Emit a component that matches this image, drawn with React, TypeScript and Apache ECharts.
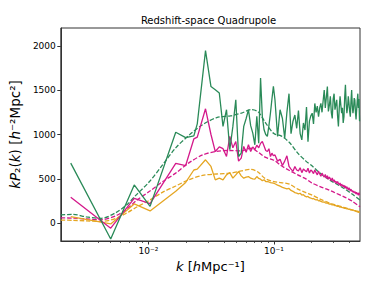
import React, { useEffect, useRef } from 'react';
import * as echarts from 'echarts';

// k bins (h/Mpc) of the measured (solid, noisy) spectra
const kSolid = [
  0.0024, 0.0050, 0.0077, 0.0103, 0.0165, 0.0198, 0.0230, 0.0245, 0.0285, 0.0315,
  0.0341, 0.0367, 0.0393, 0.0419, 0.0445, 0.0471, 0.0497, 0.0523, 0.0549, 0.0575,
  0.0601, 0.0627, 0.0653, 0.0679, 0.0705, 0.0731, 0.0757, 0.0783, 0.0809, 0.0835,
  0.0861, 0.0887, 0.0913, 0.0939, 0.0965, 0.0991,
  0.102, 0.107, 0.112, 0.117, 0.122, 0.127, 0.132, 0.137, 0.142, 0.147,
  0.152, 0.157, 0.162, 0.167, 0.172, 0.177, 0.182, 0.187, 0.192, 0.197,
  0.202, 0.207, 0.212, 0.217, 0.222, 0.227, 0.232, 0.237, 0.242, 0.247,
  0.252, 0.257, 0.262, 0.267, 0.272, 0.277, 0.282, 0.287, 0.292, 0.297,
  0.302, 0.307, 0.312, 0.317, 0.322, 0.327, 0.332, 0.337, 0.342, 0.347,
  0.352, 0.357, 0.362, 0.367, 0.372, 0.377, 0.382, 0.387, 0.392, 0.397,
  0.402, 0.407, 0.412, 0.417, 0.422, 0.427, 0.432, 0.437, 0.442, 0.447,
  0.452, 0.457, 0.462, 0.467, 0.472, 0.477, 0.482,
];

const greenSolid = [
  677, -177, 432, 190, 1025, 965, 985, 1120, 1945, 1540,
  1505, 1468, 1091, 1279, 828, 1091, 1392, 752, 790, 1091,
  1180, 1279, 1100, 1016, 884, 1204, 903, 1637, 1200, 1053,
  1000, 978, 1100, 1242, 1400, 1542,
  1392, 978, 1279, 1180, 960, 1250, 1460, 1010, 1150, 1220,
  1070, 1270, 1010, 940, 1130, 1050, 1310, 920, 1150, 1210,
  1240, 1120, 1350, 1250, 1320, 1200, 1300, 1350, 1250, 1380,
  1500, 1300, 1420, 1540, 1260, 1330, 1430, 1250, 1180, 1400,
  1460, 1280, 1340, 1390, 1210, 1090, 1300, 1430, 1330, 1240,
  1300, 1130, 1200, 1420, 1560, 1350, 1240, 1310, 1430, 1350,
  1260, 1200, 1380, 1500, 1320, 1240, 1300, 1410, 1390, 1250,
  1170, 1280, 1380, 1460, 1300, 1400, 1150,
];

const magentaSolid = [
  293, -56, 280, 222, 675, 650, 950, 970, 1290, 1000,
  808, 860, 840, 752, 978, 850, 921, 700, 734, 865,
  800, 884, 809, 860, 830, 880, 850, 900, 921, 870,
  820, 809, 840, 752, 790, 760,
  770, 700, 720, 650, 700, 760, 640, 610, 585, 640,
  600, 590, 625, 570, 610, 595, 580, 620, 565, 600,
  585, 560, 600, 570, 545, 585, 555, 530, 565, 540,
  520, 550, 505, 535, 495, 520, 500, 480, 510, 470,
  490, 460, 475, 445, 470, 450, 430, 455, 420, 440,
  425, 410, 430, 400, 420, 390, 410, 395, 375, 400,
  380, 365, 385, 360, 370, 350, 365, 340, 355, 345,
  330, 350, 325, 340, 315, 345, 320,
];

const orangeSolid = [
  75, -8, 218, 139, 360, 460, 600, 610, 715, 640,
  489, 508, 489, 545, 571, 508, 545, 583, 534, 508,
  520, 526, 508, 500, 497, 526, 505, 497, 480, 490,
  470, 470, 465, 458, 455, 452,
  445, 430, 418, 405, 395, 388, 392, 370, 360, 345,
  340, 332, 338, 318, 322, 305, 298, 302, 288, 284,
  276, 280, 268, 262, 266, 252, 255, 246, 242, 238,
  240, 230, 226, 229, 220, 216, 219, 210, 207, 211,
  203, 198, 200, 193, 190, 193, 185, 182, 185, 178,
  175, 177, 170, 168, 171, 164, 162, 165, 158, 155,
  158, 152, 150, 153, 147, 145, 147, 141, 140, 142,
  137, 135, 137, 132, 131, 133, 128,
];

// smooth model predictions (dashed)
const kModel = [
  0.002, 0.0025, 0.0032, 0.0042, 0.0055, 0.0068, 0.008, 0.0102, 0.013, 0.0165,
  0.021, 0.027, 0.035, 0.045, 0.055, 0.066, 0.075, 0.085, 0.1, 0.114,
  0.133, 0.155, 0.18, 0.2, 0.236, 0.27, 0.3, 0.36, 0.42, 0.486,
];
const greenModel = [
  94, 100, 72, 56, 120, 215, 320, 470, 660, 850,
  990, 1110, 1190, 1210, 1240, 1280, 1255, 1140, 1010, 985,
  910, 790, 700, 650, 560, 500, 460, 395, 330, 262,
];
const magentaModel = [
  60, 58, 48, 40, 85, 165, 255, 360, 470, 565,
  680, 770, 810, 820, 815, 845, 800, 745, 710, 650,
  595, 545, 500, 455, 410, 380, 350, 300, 250, 185,
];
const orangeModel = [
  35, 33, 27, 20, 55, 120, 180, 260, 350, 420,
  490, 540, 555, 565, 590, 608, 575, 505, 470, 458,
  440, 385, 345, 320, 268, 235, 212, 180, 150, 118,
];

const xMajorTicks = [0.01, 0.1];
const xMinorTicks = [0.003, 0.004, 0.005, 0.006, 0.007, 0.008, 0.009, 0.02, 0.03, 0.04, 0.05, 0.06, 0.07, 0.08, 0.09, 0.2, 0.3, 0.4];
const yTicks = [0, 500, 1000, 1500, 2000];

const GREEN = '#2a8a58';
const MAGENTA = '#d4198b';
const ORANGE = '#e5a623';
const FONT = 'DejaVu Sans';
const AXIS = '#333333';

const pair = (ks: number[], vs: number[]) => ks.map((k, i) => [k, vs[i]]);

const SUP: Record<string, string> = { '-': '\u207B', '0': '\u2070', '1': '\u00B9', '2': '\u00B2', '3': '\u00B3' };
const powLabel = (v: number) => {
  const e = Math.round(Math.log10(v));
  return '10' + String(e).split('').map((c) => SUP[c] || c).join('');
};

export default function App() {
  const ref = useRef<HTMLDivElement>(null);
  useEffect(() => {
    const chart = echarts.init(ref.current!, null, { renderer: 'svg' });
    const solid = (name: string, data: number[], color: string) => ({
      name, type: 'line', data: pair(kSolid, data), symbol: 'none', showSymbol: false,
      lineStyle: { color, width: 1.3 }, itemStyle: { color },
    });
    const dashed = (name: string, data: number[], color: string) => ({
      name, type: 'line', data: pair(kModel, data), symbol: 'none', showSymbol: false, smooth: 0.3,
      lineStyle: { color, width: 1.3, type: [4.4, 1.9] }, itemStyle: { color },
    });
    chart.setOption({
      animation: false,
      grid: { left: 57, top: 28, width: 303, height: 213, show: true, borderColor: AXIS, borderWidth: 1 },
      graphic: [{
        type: 'text', x: 208.5, y: 20,
        style: { text: 'Redshift-space Quadrupole', fontSize: 10, fontFamily: FONT, fill: '#000', textAlign: 'center', textVerticalAlign: 'middle' },
      }],
      xAxis: [
        {
          type: 'log', logBase: 10, min: 0.002, max: 0.486,
          axisLine: { show: true, onZero: false, lineStyle: { color: AXIS, width: 1 } },
          axisTick: { show: true, customValues: xMajorTicks, length: 3.5, lineStyle: { color: AXIS, width: 1 } },
          axisLabel: { customValues: xMajorTicks, formatter: powLabel, fontSize: 9, fontFamily: FONT, color: '#000', margin: 5 },
          splitLine: { show: false },
          name: '{i|k} [{i|h}Mpc\u207B\u00B9]', nameLocation: 'middle', nameGap: 17,
          nameTextStyle: { fontSize: 13, fontFamily: FONT, color: '#000', rich: { i: { fontSize: 13, fontFamily: FONT, fontStyle: 'italic', color: '#000' } } },
        },
        {
          type: 'log', logBase: 10, min: 0.002, max: 0.486, position: 'bottom',
          axisLine: { show: false, onZero: false },
          axisTick: { show: true, customValues: xMinorTicks, length: 2, lineStyle: { color: AXIS, width: 0.8 } },
          axisLabel: { show: false },
          splitLine: { show: false },
        },
      ],
      yAxis: {
        type: 'value', min: -200, max: 2200,
        axisLine: { show: true, onZero: false, lineStyle: { color: AXIS, width: 1 } },
        axisTick: { show: true, customValues: yTicks, length: 3.5, lineStyle: { color: AXIS, width: 1 } },
        axisLabel: { customValues: yTicks, formatter: (v: number) => String(v), fontSize: 9, fontFamily: FONT, color: '#000', margin: 5 },
        splitLine: { show: false },
        name: '{i|kP}\u2082({i|k}) [{i|h}\u207B\u00B2Mpc\u00B2]', nameLocation: 'middle', nameGap: 30, nameRotate: 90,
        nameTextStyle: { fontSize: 13.5, fontFamily: FONT, color: '#000', rich: { i: { fontSize: 13.5, fontFamily: FONT, fontStyle: 'italic', color: '#000' } } },
      },
      series: [
        dashed('green model', greenModel, GREEN),
        dashed('magenta model', magentaModel, MAGENTA),
        dashed('orange model', orangeModel, ORANGE),
        solid('orange', orangeSolid, ORANGE),
        solid('magenta', magentaSolid, MAGENTA),
        solid('green', greenSolid, GREEN),
      ],
    });
    return () => chart.dispose();
  }, []);
  return <div ref={ref} style={{ position: 'absolute', left: 0, top: 0, width: 379, height: 284 }} />;
}
